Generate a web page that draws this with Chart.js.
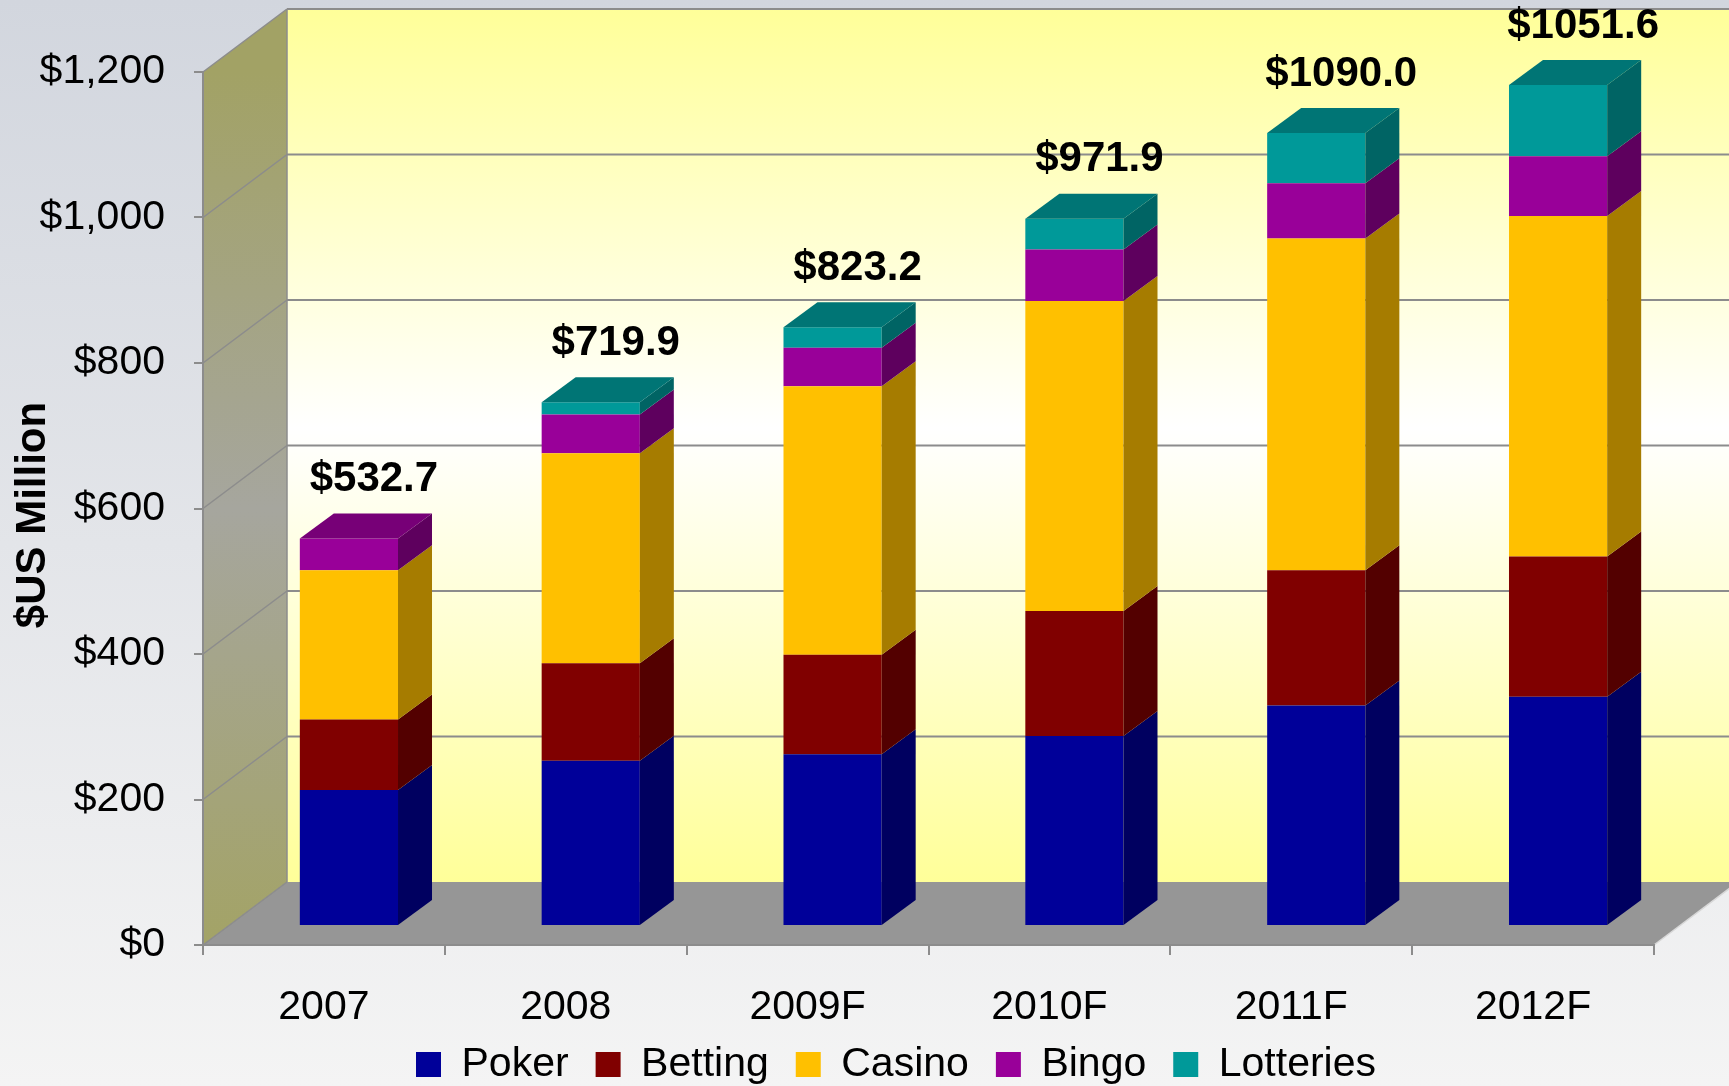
<!DOCTYPE html>
<html>
<head>
<meta charset="UTF-8">
<title>Online gambling revenue</title>
<style>
body {
	margin: 0;
	background: #eeeeee;
}
.chart-container {
	width: 1729px;
	height: 1086px;
}
</style>
<script src="https://cdn.jsdelivr.net/npm/chart.js"></script>
</head>
<body>
	<div class="chart-container">
		<canvas id="bar-chart"></canvas>
	</div>

	<script>
		const years = ['2007', '2008', '2009F', '2010F', '2011F', '2012F'];
		const poker = [187, 227, 236, 261, 303, 315];
		const betting = [97, 134, 137, 172, 186, 193];
		const casino = [205, 289, 369, 426, 456, 468];
		const bingo = [43.7, 53, 53, 71, 76, 82];
		const lotteries = [0, 16.9, 28, 42, 69, 98];
		const totalLabels = ['$532.7', '$719.9', '$823.2', '$971.9', '$1090.0', '$1051.6'];
		const yTicks = [0, 200, 400, 600, 800, 1000, 1200];

		const FONT = '"Liberation Sans", Arial, sans-serif';
		// 3d offsets: back wall, bar front face, bar depth
		const WALL_DX = 84, WALL_DY = -63;
		const BAR_DX = 25, BAR_DY = -19;
		const DEPTH_DX = 34, DEPTH_DY = -25;

		const colors = ['#000099', '#800000', '#ffc000', '#990099', '#009999'];
		const sideColors = ['#000060', '#530000', '#a67c00', '#5e005e', '#006464'];
		const topColors = ['#00007a', '#6a0000', '#d4a000', '#770077', '#007575'];

		function poly(ctx, pts, fill) {
			ctx.beginPath();
			ctx.moveTo(pts[0][0], pts[0][1]);
			for (let i = 1; i < pts.length; i++) ctx.lineTo(pts[i][0], pts[i][1]);
			ctx.closePath();
			ctx.fillStyle = fill;
			ctx.fill();
		}

		const depth3d = {
			id : 'depth3d',
			afterLayout(chart) {
				// legend sits a bit right of centre and close under the year labels
				const lg = chart.legend;
				const dx = 64, dy = 1017 - lg.top;
				lg.left += dx; lg.right += dx;
				lg.top += dy; lg.bottom += dy;
			},
			beforeDraw(chart) {
				const ctx = chart.ctx, a = chart.chartArea, y = chart.scales.y;
				ctx.save();
				let g = ctx.createLinearGradient(0, 0, 0, chart.height);
				g.addColorStop(0, '#d2d6de');
				g.addColorStop(1, '#f4f4f4');
				ctx.fillStyle = g;
				ctx.fillRect(0, 0, chart.width, chart.height);

				const y0 = y.getPixelForValue(0), yT = y.getPixelForValue(1200);
				const bx = a.left + WALL_DX;
				// back wall
				g = ctx.createLinearGradient(0, yT + WALL_DY, 0, y0 + WALL_DY);
				g.addColorStop(0, '#ffff99');
				g.addColorStop(0.48, '#ffffff');
				g.addColorStop(1, '#ffff99');
				ctx.fillStyle = g;
				ctx.fillRect(bx, yT + WALL_DY, chart.width - bx, y0 - yT);
				// side wall
				g = ctx.createLinearGradient(0, yT, 0, y0);
				g.addColorStop(0, '#a2a265');
				g.addColorStop(0.5, '#a6a69e');
				g.addColorStop(1, '#a3a366');
				poly(ctx, [[a.left, y0], [bx, y0 + WALL_DY], [bx, yT + WALL_DY], [a.left, yT]], g);
				// floor
				poly(ctx, [[a.left, y0], [a.right, y0], [a.right + WALL_DX, y0 + WALL_DY], [bx, y0 + WALL_DY]], '#969696');

				ctx.strokeStyle = '#8c8c8c';
				yTicks.forEach(v => {
					const yy = y.getPixelForValue(v);
					ctx.lineWidth = 1.5;
					ctx.beginPath();
					ctx.moveTo(a.left, yy);
					ctx.lineTo(bx, yy + WALL_DY);
					ctx.stroke();
					if (v > 0) {
						ctx.lineWidth = 2;
						ctx.beginPath();
						ctx.moveTo(bx, yy + WALL_DY);
						ctx.lineTo(chart.width, yy + WALL_DY);
						ctx.stroke();
					}
				});
				ctx.lineWidth = 1.5;
				ctx.beginPath();
				ctx.moveTo(bx, yT + WALL_DY);
				ctx.lineTo(bx, y0 + WALL_DY);
				ctx.stroke();
				ctx.strokeStyle = '#d8d8d8';
				ctx.beginPath();
				ctx.moveTo(a.right, y0);
				ctx.lineTo(a.right + WALL_DX, y0 + WALL_DY);
				ctx.stroke();
				ctx.restore();
			},
			beforeDatasetsDraw(chart) {
				chart.ctx.save();
				chart.ctx.translate(BAR_DX, BAR_DY);
			},
			afterDatasetsDraw(chart) {
				const ctx = chart.ctx;
				const n = chart.data.datasets.length;
				years.forEach((yr, j) => {
					let top = null;
					for (let i = 0; i < n; i++) {
						const bar = chart.getDatasetMeta(i).data[j];
						if (!chart.data.datasets[i].data[j]) continue;
						const p = bar.getProps(['x', 'y', 'base', 'width'], true);
						const r = p.x + p.width / 2;
						poly(ctx, [[r, p.y], [r + DEPTH_DX, p.y + DEPTH_DY], [r + DEPTH_DX, p.base + DEPTH_DY], [r, p.base]], sideColors[i]);
						top = {p, i};
					}
					const p = top.p, l = p.x - p.width / 2, r = p.x + p.width / 2;
					poly(ctx, [[l, p.y], [l + DEPTH_DX, p.y + DEPTH_DY], [r + DEPTH_DX, p.y + DEPTH_DY], [r, p.y]], topColors[top.i]);
					ctx.font = 'bold 42px ' + FONT;
					ctx.fillStyle = '#000';
					ctx.textAlign = 'center';
					ctx.textBaseline = 'middle';
					ctx.fillText(totalLabels[j], p.x + 25, p.y + DEPTH_DY - 34);
				});
				ctx.restore();
			},
			afterDraw(chart) {
				const ctx = chart.ctx;
				ctx.save();
				ctx.translate(33, 515);
				ctx.rotate(-Math.PI / 2);
				ctx.font = 'bold 42px ' + FONT;
				ctx.fillStyle = '#000';
				ctx.textAlign = 'center';
				ctx.textBaseline = 'middle';
				ctx.fillText('$US Million', 0, 0);
				ctx.restore();
			}
		};

		const series = [
			['Poker', poker], ['Betting', betting], ['Casino', casino],
			['Bingo', bingo], ['Lotteries', lotteries]
		];
		const datasets = series.map((s, i) => ({
			label : s[0],
			data : s[1],
			backgroundColor : colors[i],
			borderColor : colors[i],
			borderWidth : 0,
			barPercentage : 0.406,
			categoryPercentage : 1
		}));

		const config = {
			type : 'bar',
			data : {
				labels : years,
				datasets : datasets
			},
			options : {
				responsive : true,
				maintainAspectRatio : false,
				animation : false,
				layout : {
					padding : {left : 10, right : 75, top : 72, bottom : -27}
				},
				plugins : {
					tooltip : {enabled : false},
					legend : {
						position : 'bottom',
						labels : {
							boxWidth : 25,
							boxHeight : 25,
							padding : 27,
							color : '#000',
							font : {size : 41, family : FONT}
						}
					}
				},
				scales : {
					x : {
						stacked : true,
						grid : {offset : true, drawOnChartArea : false, tickLength : 10, color : '#8c8c8c', lineWidth : 2},
						border : {color : '#8c8c8c', width : 2},
						ticks : {color : '#000', padding : 28, font : {size : 41, family : FONT}},
						afterFit(s) { s.height = 90; }
					},
					y : {
						stacked : true,
						min : 0,
						max : 1200,
						grid : {drawOnChartArea : false, tickLength : 9, color : '#8c8c8c', lineWidth : 2},
						border : {color : '#8c8c8c', width : 2},
						ticks : {
							color : '#000',
							padding : 29,
							font : {size : 41, family : FONT},
							callback : v => '$' + v.toLocaleString('en-US')
						},
						afterBuildTicks(s) { s.ticks = yTicks.map(v => ({value : v})); },
						afterFit(s) { s.width = 193; }
					}
				}
			},
			plugins : [depth3d]
		};
		new Chart(document.querySelector('#bar-chart'), config);
	</script>
</body>
</html>
